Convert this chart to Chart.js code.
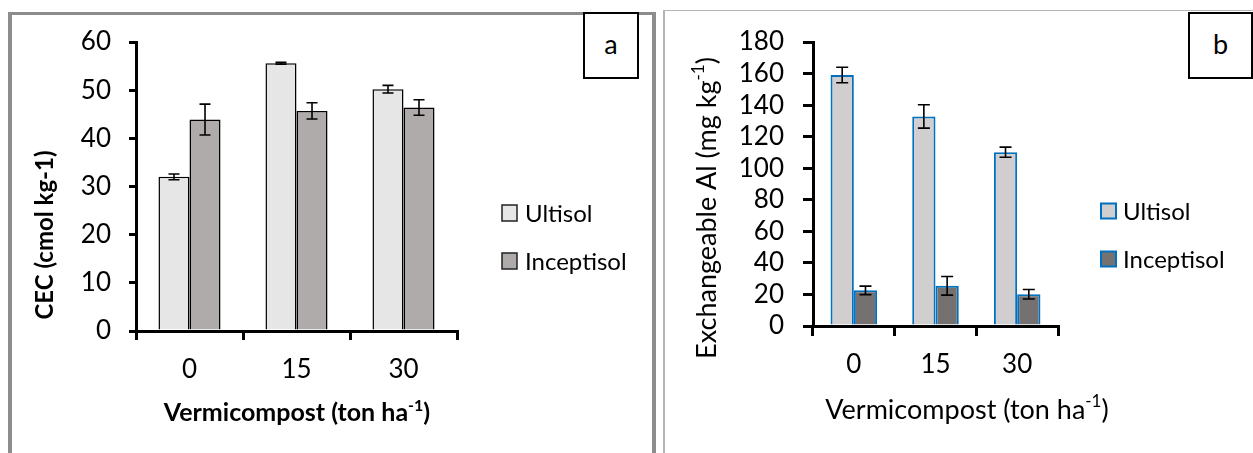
<!DOCTYPE html>
<html><head><meta charset="utf-8">
<script src="https://cdn.jsdelivr.net/npm/chart.js@4.4.1/dist/chart.umd.min.js"></script>
<style>
html,body{margin:0;padding:0;background:#fff;width:1253px;height:453px;overflow:hidden;font-family:Lato,sans-serif;}
.panelA{position:absolute;left:8px;top:12px;width:648px;height:470px;box-sizing:border-box;border-left:4px solid #8c8c8c;border-top:3px solid #8c8c8c;border-right:4px solid #8c8c8c;}
.panelB{position:absolute;left:663px;top:10px;width:600px;height:470px;box-sizing:border-box;border-left:2px solid #b4b4b4;border-top:1px solid #b4b4b4;}
#wrapA{position:absolute;left:0;top:0;width:660px;height:453px;}
#wrapB{position:absolute;left:660px;top:0;width:593px;height:453px;}
canvas{display:block;}
.tag{position:absolute;box-sizing:border-box;border:2px solid #000;background:#fff;font:27px Lato,sans-serif;color:#000;display:flex;align-items:center;justify-content:center;}
</style></head>
<body>
<div class="panelA"></div>
<div class="panelB"></div>
<div id="wrapA"><canvas id="cA" width="660" height="453"></canvas></div>
<div id="wrapB"><canvas id="cB" width="593" height="453"></canvas></div>
<div class="tag" style="left:583px;top:12px;width:56px;height:67px;padding-bottom:4px;">a</div>
<div class="tag" style="left:1188px;top:12px;width:65px;height:67px;padding-bottom:4px;">b</div>
<script>
// ---- data ----
const categories = ['0', '15', '30'];
const seriesNames = ['Ultisol', 'Inceptisol'];
const cecUltisol = [32.0, 55.6, 50.2];
const cecUltisolErr = [0.6, 0.2, 0.8];
const cecInceptisol = [43.9, 45.7, 46.4];
const cecInceptisolErr = [3.2, 1.7, 1.6];
const alUltisol = [159.1, 132.8, 110.2];
const alUltisolErr = [4.9, 7.4, 3.2];
const alInceptisol = [22.6, 25.5, 20.1];
const alInceptisolErr = [2.7, 5.9, 3.0];

const FONT = 'Lato';

// ---- plugins ----
const errorBarsPlugin = {
  id: 'errorBars',
  afterDatasetsDraw(chart, args, o) {
    const ctx = chart.ctx, ys = chart.scales.y;
    ctx.save();
    ctx.strokeStyle = '#000';
    ctx.lineWidth = o.lineWidth;
    chart.data.datasets.forEach((ds, di) => {
      const meta = chart.getDatasetMeta(di);
      const errs = o.errors[di];
      meta.data.forEach((bar, i) => {
        const v = ds.data[i], e = errs[i];
        const x = bar.x;
        const y1 = ys.getPixelForValue(v + e), y2 = ys.getPixelForValue(v - e);
        ctx.beginPath();
        ctx.moveTo(x, y1); ctx.lineTo(x, y2);
        ctx.moveTo(x - o.cap / 2, y1); ctx.lineTo(x + o.cap / 2, y1);
        ctx.moveTo(x - o.cap / 2, y2); ctx.lineTo(x + o.cap / 2, y2);
        ctx.stroke();
      });
    });
    ctx.restore();
  }
};

const sideLegendPlugin = {
  id: 'sideLegend',
  afterDraw(chart, args, o) {
    const ctx = chart.ctx;
    ctx.save();
    chart.data.datasets.forEach((ds, i) => {
      const y = o.y[i];
      ctx.fillStyle = ds.backgroundColor;
      ctx.fillRect(o.x, y - o.h / 2, o.w, o.h);
      ctx.lineWidth = o.lw;
      ctx.strokeStyle = o.stroke || ds.borderColor;
      ctx.strokeRect(o.x, y - o.h / 2, o.w, o.h);
      ctx.fillStyle = '#000';
      ctx.font = o.size + 'px ' + FONT;
      ctx.textAlign = 'left';
      ctx.textBaseline = 'middle';
      ctx.fillText(ds.label, o.textX, y + 1);
    });
    ctx.restore();
  }
};

function drawRuns(ctx, runs, cx, cy, size, weight) {
  const main = weight + ' ' + size + 'px ' + FONT;
  const sup = weight + ' ' + Math.round(size * 0.62) + 'px ' + FONT;
  let total = 0;
  runs.forEach(r => { ctx.font = r.sup ? sup : main; total += ctx.measureText(r.t).width; });
  let x = cx - total / 2;
  ctx.textAlign = 'left';
  ctx.textBaseline = 'middle';
  runs.forEach(r => {
    ctx.font = r.sup ? sup : main;
    ctx.fillText(r.t, x, r.sup ? cy - size * 0.3 : cy);
    x += ctx.measureText(r.t).width;
  });
}

const axisTitlesPlugin = {
  id: 'axisTitles',
  afterDraw(chart, args, o) {
    const ctx = chart.ctx;
    ctx.save();
    ctx.fillStyle = '#000';
    drawRuns(ctx, o.x.runs, o.x.cx, o.x.cy, o.x.size, o.weight);
    ctx.translate(o.y.cx, o.y.cy);
    ctx.rotate(-Math.PI / 2);
    drawRuns(ctx, o.y.runs, 0, 0, o.y.size, o.weight);
    ctx.restore();
  }
};

function makeChart(id, c) {
  const tickFont = { family: FONT, size: c.tickSize };
  return new Chart(document.getElementById(id), {
    type: 'bar',
    data: {
      labels: categories,
      datasets: [
        { label: seriesNames[0], data: c.u, backgroundColor: c.uFill, borderColor: c.border, borderWidth: c.bw },
        { label: seriesNames[1], data: c.i, backgroundColor: c.iFill, borderColor: c.border, borderWidth: c.bw }
      ]
    },
    options: {
      responsive: false,
      devicePixelRatio: 1,
      animation: false,
      events: [],
      layout: { padding: { top: c.top, right: c.padRight, left: 0, bottom: 0 } },
      datasets: { bar: { categoryPercentage: c.cat, barPercentage: 1 } },
      plugins: {
        legend: { display: false },
        tooltip: { enabled: false },
        errorBars: { errors: [c.uErr, c.iErr], cap: c.cap, lineWidth: 1.6 },
        sideLegend: c.legend,
        axisTitles: c.titles
      },
      scales: {
        x: {
          grid: { display: true, drawOnChartArea: false, drawTicks: true, tickLength: c.xTick, lineWidth: 3, color: '#000', offset: true },
          border: { display: true, color: '#000', width: 3 },
          ticks: { color: '#000', font: tickFont, padding: c.xPad, maxRotation: 0, autoSkip: false },
          afterFit(s) { s.height = c.xH; }
        },
        y: {
          min: 0, max: c.max,
          grid: { display: true, drawOnChartArea: false, drawTicks: true, tickLength: c.yTick, lineWidth: 3, color: '#000' },
          border: { display: true, color: '#000', width: 3 },
          ticks: { stepSize: c.step, color: '#000', font: tickFont, padding: c.yPad, autoSkip: false },
          afterFit(s) { s.width = c.yW; }
        }
      }
    },
    plugins: [errorBarsPlugin, sideLegendPlugin, axisTitlesPlugin]
  });
}

makeChart('cA', {
  u: cecUltisol, uErr: cecUltisolErr, i: cecInceptisol, iErr: cecInceptisolErr,
  uFill: '#e7e6e6', iFill: '#afabab', border: '#000', bw: 1.5,
  max: 60, step: 10, top: 42, padRight: 203, yW: 136, xH: 122,
  cat: 0.58, cap: 11, xTick: 9, yTick: 7, xPad: 14, yPad: 18, tickSize: 26,
  legend: { x: 502, w: 15, h: 16, y: [213, 261], textX: 525, size: 24, lw: 1.5, stroke: '#222' },
  titles: {
    weight: 'bold',
    x: { size: 25, cx: 297, cy: 413, runs: [{ t: 'Vermicompost (ton ha' }, { t: '-1', sup: true }, { t: ')' }] },
    y: { size: 24, cx: 45, cy: 235, runs: [{ t: 'CEC (cmol kg-1)' }] }
  }
});

makeChart('cB', {
  u: alUltisol, uErr: alUltisolErr, i: alInceptisol, iErr: alInceptisolErr,
  uFill: '#d0cece', iFill: '#767171', border: '#0070c0', bw: 2,
  max: 180, step: 20, top: 42, padRight: 195, yW: 153, xH: 127,
  cat: 0.57, cap: 12, xTick: 10, yTick: 10, xPad: 13, yPad: 19, tickSize: 26,
  legend: { x: 441, w: 15, h: 15, y: [211, 259], textX: 463, size: 24, lw: 2 },
  titles: {
    weight: 'normal',
    x: { size: 27, cx: 307, cy: 410, runs: [{ t: 'Vermicompost (ton ha' }, { t: '-1', sup: true }, { t: ')' }] },
    y: { size: 27, cx: 47, cy: 208, runs: [{ t: 'Exchangeable Al (mg kg' }, { t: '-1', sup: true }, { t: ')' }] }
  }
});
</script>
</body></html>
